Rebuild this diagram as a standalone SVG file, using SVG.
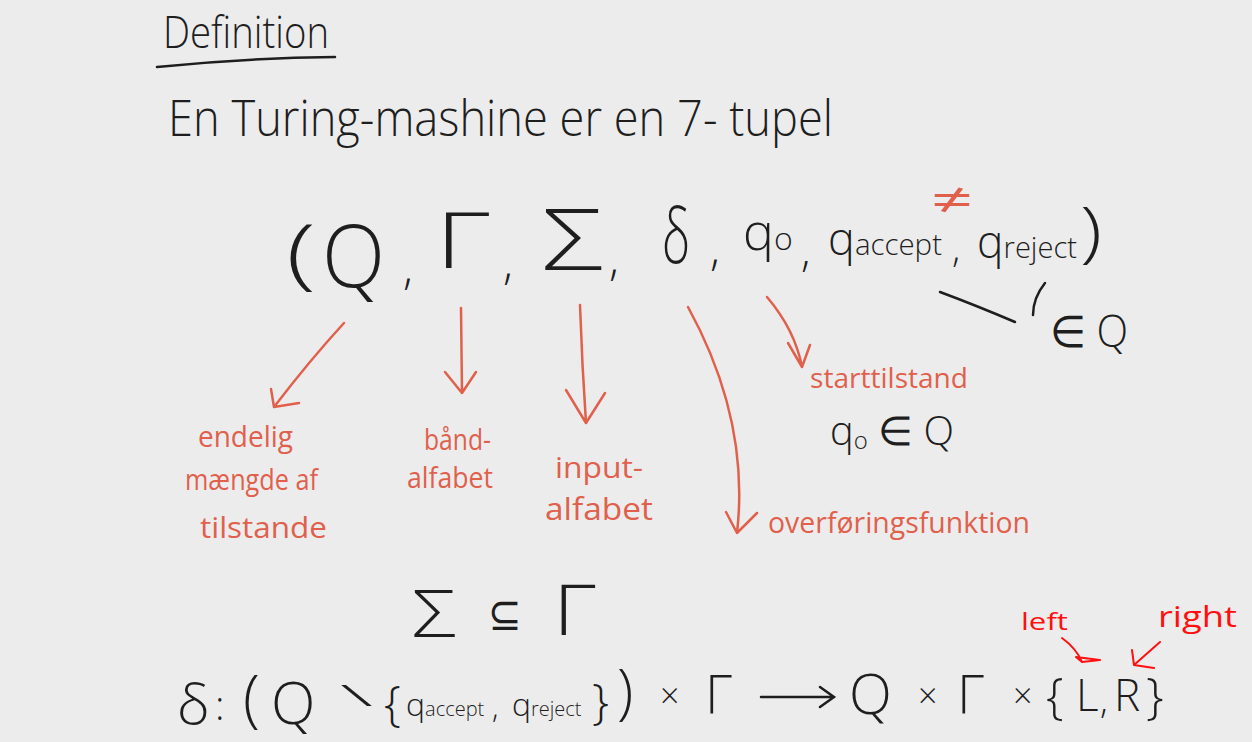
<svg xmlns="http://www.w3.org/2000/svg" width="1252" height="742" viewBox="0 0 1252 742">
<style>
.k{font-family:"Open Sans","Liberation Sans",sans-serif;fill:#1e1e1e;font-weight:300}
.r{font-family:"Open Sans","Liberation Sans",sans-serif;fill:#e0604c;font-weight:400}
.rr{font-family:"Open Sans","Liberation Sans",sans-serif;fill:#ff1010;font-weight:400}
.ks{fill:none;stroke:#1e1e1e;stroke-width:2.5;stroke-linecap:round}
.rs{fill:none;stroke:#e0604c;stroke-width:2.5;stroke-linecap:round;stroke-linejoin:round}
.rrs{fill:none;stroke:#ff1010;stroke-width:2;stroke-linecap:round;stroke-linejoin:round}
</style>
<rect width="1252" height="742" fill="#ececec"/>

<g id="title">
<text class="k" x="163" y="48" font-size="44" textLength="166" lengthAdjust="spacingAndGlyphs">Definition</text>
<path class="ks" d="M157 67 Q245 58 335 57"/>
<text class="k" x="168" y="136" font-size="50" textLength="665" lengthAdjust="spacingAndGlyphs">En Turing-mashine er en 7- tupel</text>
</g>

<g id="tuple">
<text class="k" x="286" y="280" font-size="78" textLength="30" lengthAdjust="spacingAndGlyphs">(</text>
<text class="k" x="322" y="287" font-size="86" textLength="63" lengthAdjust="spacingAndGlyphs">Q</text>
<text class="k" x="403" y="284" font-size="46">,</text>
<text class="k" x="435" y="268" font-size="77" textLength="55" lengthAdjust="spacingAndGlyphs">Γ</text>
<text class="k" x="503" y="279" font-size="46">,</text>
<text class="k" x="542" y="270" font-size="84" textLength="61" lengthAdjust="spacingAndGlyphs">Σ</text>
<text class="k" x="609" y="275" font-size="46">,</text>
<text class="k" x="662" y="263" font-size="76" textLength="28" lengthAdjust="spacingAndGlyphs">δ</text>
<text class="k" x="710" y="265" font-size="46">,</text>
<text class="k" x="743" y="250" font-size="52">q<tspan font-size="32">o</tspan></text>
<text class="k" x="801" y="266" font-size="44">,</text>
<text class="k" x="828" y="255" font-size="46" textLength="114" lengthAdjust="spacingAndGlyphs">q<tspan font-size="30">accept</tspan></text>
<text class="k" x="952" y="262" font-size="38">,</text>
<text class="k" x="977" y="258" font-size="46" textLength="100" lengthAdjust="spacingAndGlyphs">q<tspan font-size="30">reject</tspan></text>
<text class="k" x="1080" y="255" font-size="66" textLength="22" lengthAdjust="spacingAndGlyphs">)</text>
<text class="r" x="931" y="216" font-size="46" textLength="42" lengthAdjust="spacingAndGlyphs">≠</text>
</g>

<g id="inQ">
<path class="ks" d="M940 292 Q975 305 1015 322"/>
<path class="ks" d="M1045 283 Q1033 298 1033 315"/>
<text class="k" x="1050" y="347" font-size="44" textLength="78" lengthAdjust="spacingAndGlyphs">∈ Q</text>
</g>

<g id="label-Q">
<text class="r" x="198" y="447" font-size="30" textLength="95" lengthAdjust="spacingAndGlyphs">endelig</text>
<text class="r" x="185" y="490" font-size="30" textLength="133" lengthAdjust="spacingAndGlyphs">mængde af</text>
<text class="r" x="200" y="538" font-size="30" textLength="127" lengthAdjust="spacingAndGlyphs">tilstande</text>
</g>
<g id="label-Gamma">
<text class="r" x="424" y="450" font-size="30" textLength="67" lengthAdjust="spacingAndGlyphs">bånd-</text>
<text class="r" x="407" y="488" font-size="30" textLength="86" lengthAdjust="spacingAndGlyphs">alfabet</text>
</g>
<g id="label-Sigma">
<text class="r" x="555" y="478" font-size="30" textLength="88" lengthAdjust="spacingAndGlyphs">input-</text>
<text class="r" x="545" y="520" font-size="31" textLength="108" lengthAdjust="spacingAndGlyphs">alfabet</text>
</g>
<g id="label-delta">
<text class="r" x="768" y="533" font-size="30" textLength="262" lengthAdjust="spacingAndGlyphs">overføringsfunktion</text>
</g>
<g id="label-q0">
<text class="r" x="810" y="388" font-size="28" textLength="158" lengthAdjust="spacingAndGlyphs">starttilstand</text>
<text class="k" x="830" y="445" font-size="40" textLength="124" lengthAdjust="spacingAndGlyphs">q<tspan font-size="24" dy="4">o</tspan><tspan dy="-4"> ∈ Q</tspan></text>
</g>

<g id="connectors">
<path class="rs" d="M344 323 Q310 360 274 407 M271 389 L274 407 L299 403"/>
<path class="rs" d="M461 308 L462 393 M445 372 L462 393 L476 372"/>
<path class="rs" d="M580 305 Q582 365 586 423 M566 390 L586 423 L605 393"/>
<path class="rs" d="M688 307 Q750 420 737 533 M726 512 L737 533 L757 513"/>
<path class="rs" d="M767 297 Q795 330 802 367 M788 343 L802 367 L810 345"/>
<path class="rrs" d="M1062 638 Q1076 648 1082 662 M1076 657 L1082 662 L1100 660 Z"/>
<path class="rrs" d="M1160 642 L1134 665 M1132 650 L1134 665 L1154 668"/>
</g>

<g id="subset">
<text class="k" x="412" y="638" font-size="66" textLength="44" lengthAdjust="spacingAndGlyphs">Σ</text>
<text class="k" x="488" y="630" font-size="46" textLength="34" lengthAdjust="spacingAndGlyphs">⊆</text>
<text class="k" x="553" y="635" font-size="70" textLength="43" lengthAdjust="spacingAndGlyphs">Γ</text>
</g>

<g id="delta-def">
<text class="k" x="177" y="724" font-size="56">δ</text>
<text class="k" x="215" y="720" font-size="40">:</text>
<text class="k" x="243" y="720" font-size="62">(</text>
<text class="k" x="271" y="724" font-size="58">Q</text>
<text class="k" x="340" y="706" font-size="30" textLength="33" lengthAdjust="spacingAndGlyphs">\</text>
<text class="k" x="384" y="720" font-size="48">{</text>
<text class="k" x="406" y="716" font-size="32">q<tspan font-size="20">accept</tspan></text>
<text class="k" x="492" y="718" font-size="30">,</text>
<text class="k" x="512" y="716" font-size="32">q<tspan font-size="20">reject</tspan></text>
<text class="k" x="592" y="718" font-size="48">}</text>
<text class="k" x="617" y="713" font-size="60">)</text>
<text class="k" x="660" y="708" font-size="34">×</text>
<text class="k" x="705" y="713" font-size="54">Γ</text>
<path class="ks" d="M761 697 L833 697 M820 687 L834 697 L820 707"/>
<text class="k" x="849" y="714" font-size="56">Q</text>
<text class="k" x="918" y="708" font-size="34">×</text>
<text class="k" x="957" y="713" font-size="54">Γ</text>
<text class="k" x="1013" y="708" font-size="34">×</text>
<text class="k" x="1046" y="714" font-size="50">{</text>
<text class="k" x="1076" y="711" font-size="44">L</text>
<text class="k" x="1100" y="713" font-size="36">,</text>
<text class="k" x="1114" y="711" font-size="44">R</text>
<text class="k" x="1146" y="714" font-size="50">}</text>
<text class="rr" x="1021" y="630" font-size="24" textLength="47" lengthAdjust="spacingAndGlyphs">left</text>
<text class="rr" x="1158" y="627" font-size="30" textLength="79" lengthAdjust="spacingAndGlyphs">right</text>
</g>
</svg>
